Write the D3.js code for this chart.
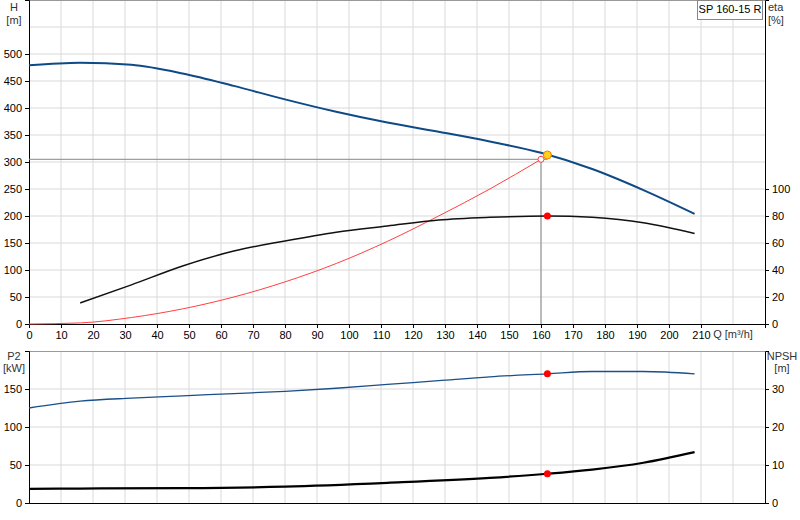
<!DOCTYPE html>
<html><head><meta charset="utf-8">
<script src="https://cdn.jsdelivr.net/npm/d3@7"></script>
<style>body{margin:0;background:#fff}text{font-family:"Liberation Sans",Arial,sans-serif;font-size:11px}</style>
</head><body><svg id="c" width="800" height="520"></svg>
<script>
// data
var qH = [0, 16, 32, 48, 64, 80, 96, 112, 128, 144, 160, 176, 192, 208];
var head = [479, 484, 480, 464, 441, 416, 393, 373, 356, 338, 317, 287, 248, 204];
var qEta = [16, 32, 48, 64, 80, 96, 112, 128, 144, 162, 176, 192, 208];
var eta = [15.6, 29, 43, 54, 61.5, 68, 72.6, 77, 79, 80, 79, 75, 67];
var qSys = [0, 16, 32, 48, 64, 80, 96, 112, 128, 144, 160];
var sysH = [0, 2, 12, 28, 50, 78, 112, 153, 200, 250, 305];
var qP2 = [0, 16, 32, 48, 64, 80, 96, 112, 128, 144, 162, 176, 192, 208];
var p2 = [125, 134, 138, 141, 144, 147, 151, 156, 161, 166, 170, 173, 173, 170];
var qNpsh = [0, 16, 48, 80, 112, 144, 162, 176, 192, 208];
var npsh = [3.7, 3.8, 3.9, 4.3, 5.3, 6.6, 7.7, 8.8, 10.6, 13.4];
var duty = {q: 162, h: 313, eta: 80, p2: 170, npsh: 7.7, qLine: 160, hLine: 305};
var hTicks = [0, 50, 100, 150, 200, 250, 300, 350, 400, 450, 500];
var etaTicks = [0, 20, 40, 60, 80, 100];
var p2Ticks = [0, 50, 100, 150];
var npshTicks = [0, 10, 20, 30];
var qTicks = d3.range(0, 220, 10);

var svg = d3.select("#c");
var L = 29, R = 765;
var x = d3.scaleLinear().domain([0, 230]).range([L, R]);
var yH = d3.scaleLinear().domain([0, 600]).range([324, 0]);
var yE = d3.scaleLinear().domain([0, 240]).range([324, 0]);
var yP = d3.scaleLinear().domain([0, 200]).range([503, 351]);
var yN = d3.scaleLinear().domain([0, 40]).range([503, 351]);
var grid = "#d9d9d9";

// grids
var g1 = svg.append("g");
g1.selectAll(".v").data(d3.range(10, 230, 10)).enter().append("line")
  .attr("x1", d => x(d)).attr("x2", d => x(d)).attr("y1", 0).attr("y2", 324).attr("stroke", grid);
g1.selectAll(".h").data(d3.range(50, 600, 50)).enter().append("line")
  .attr("x1", L).attr("x2", R).attr("y1", d => yH(d)).attr("y2", d => yH(d)).attr("stroke", grid);
var g2 = svg.append("g");
g2.selectAll(".v").data(d3.range(10, 230, 10)).enter().append("line")
  .attr("x1", d => x(d)).attr("x2", d => x(d)).attr("y1", 351).attr("y2", 503).attr("stroke", grid);
g2.selectAll(".h").data([10, 20, 30]).enter().append("line")
  .attr("x1", L).attr("x2", R).attr("y1", d => yN(d)).attr("y2", d => yN(d)).attr("stroke", grid);

// frames
svg.append("line").attr("x1", L).attr("x2", R).attr("y1", 0.5).attr("y2", 0.5).attr("stroke", "#999");
svg.append("line").attr("x1", L).attr("x2", R).attr("y1", 351.5).attr("y2", 351.5).attr("stroke", "#999");

// axes
svg.append("g").attr("transform", "translate(" + L + ",0)")
  .call(d3.axisLeft(yH).tickValues(hTicks).tickSize(4));
svg.append("g").attr("transform", "translate(" + R + ",0)")
  .call(d3.axisRight(yE).tickValues(etaTicks).tickSize(4));
svg.append("g").attr("transform", "translate(0,324)")
  .call(d3.axisBottom(x).tickValues(qTicks).tickSize(4));
svg.append("g").attr("transform", "translate(" + L + ",0)")
  .call(d3.axisLeft(yP).tickValues(p2Ticks).tickSize(4));
svg.append("g").attr("transform", "translate(" + R + ",0)")
  .call(d3.axisRight(yN).tickValues(npshTicks).tickSize(4));
svg.append("line").attr("x1", L).attr("x2", R).attr("y1", 503.5).attr("y2", 503.5).attr("stroke", "#000");
svg.selectAll(".domain").attr("stroke", "#000");
svg.selectAll(".tick text").attr("font-size", 11).attr("font-family", "Liberation Sans,Arial");

// labels
function lab(t, xx, yy, anchor, col) {
  svg.append("text").attr("x", xx).attr("y", yy).attr("text-anchor", anchor || "middle").attr("fill", col || "#333").text(t);
}
lab("H", 14, 11); lab("[m]", 14, 24);
lab("eta", 768, 11, "start"); lab("[%]", 768, 24, "start");
lab("Q [m³/h]", 733, 338);
lab("P2", 14, 360); lab("[kW]", 14, 372);
lab("NPSH", 782, 360); lab("[m]", 782, 372);
svg.append("rect").attr("x", 697.5).attr("y", 0.5).attr("width", 65).attr("height", 19).attr("fill", "#fff").attr("stroke", "#888");
lab("SP 160-15 R", 730, 13, "middle", "#000");

// duty lines
svg.append("line").attr("x1", L).attr("x2", x(duty.q)).attr("y1", yH(duty.hLine)).attr("y2", yH(duty.hLine)).attr("stroke", "#888");
svg.append("line").attr("x1", x(duty.qLine)).attr("x2", x(duty.qLine)).attr("y1", yH(duty.hLine)).attr("y2", 324).attr("stroke", "#888");

// curves
function curve(qs, vs, ys, col, w) {
  svg.append("path").datum(d3.zip(qs, vs))
    .attr("d", d3.line().x(d => x(d[0])).y(d => ys(d[1])).curve(d3.curveMonotoneX))
    .attr("fill", "none").attr("stroke", col).attr("stroke-width", w);
}
curve(qSys, sysH, yH, "#ff4040", 1);
curve(qH, head, yH, "#0d4a87", 2);
curve(qEta, eta, yE, "#111", 1.5);
curve(qP2, p2, yP, "#1a4f8a", 1.3);
curve(qNpsh, npsh, yN, "#000", 2.2);

// points
svg.append("circle").attr("cx", x(duty.qLine)).attr("cy", yH(duty.hLine)).attr("r", 3).attr("fill", "#fff").attr("stroke", "#ff4040");
svg.append("circle").attr("cx", x(duty.q)).attr("cy", yH(duty.h)).attr("r", 4).attr("fill", "#ffd21a").attr("stroke", "#f08000");
[[yE, duty.eta], [yP, duty.p2], [yN, duty.npsh]].forEach(function (p) {
  svg.append("circle").attr("cx", x(duty.q)).attr("cy", p[0](p[1])).attr("r", 3.5).attr("fill", "#f00");
});
</script></body></html>
